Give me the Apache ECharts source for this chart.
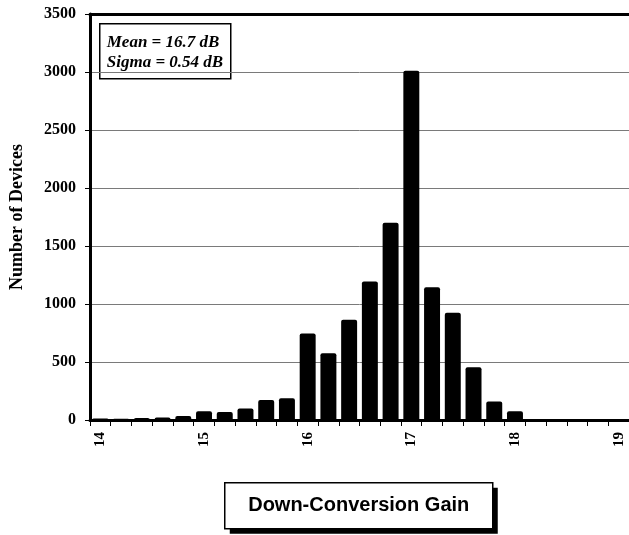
<!DOCTYPE html>
<html>
<head>
<meta charset="utf-8">
<script src="https://cdn.jsdelivr.net/npm/echarts@6/dist/echarts.min.js"></script>
<style>
html,body{margin:0;padding:0;background:#fff;}
#chart{width:629px;height:535px;}
</style>
</head>
<body>
<div id="chart"></div>
<script>
const categories = ['14','14.2','14.4','14.6','14.8','15','15.2','15.4','15.6','15.8','16','16.2','16.4','16.6','16.8','17','17.2','17.4','17.6','17.8','18','18.2','18.4','18.6','18.8','19'];
const counts = [12, 10, 17, 22, 35, 75, 70, 100, 172, 188, 745, 575, 865, 1195, 1700, 3010, 1145, 925, 455, 160, 75, 8, 2, 1, 1, 0];
const yTicks = { min: 0, max: 3500, interval: 500 };
const statsLines = ['Mean = 16.7 dB', 'Sigma = 0.54 dB'];
const xTitle = 'Down-Conversion Gain';
const yTitle = 'Number of Devices';

const serif = '"Liberation Serif", "Times New Roman", serif';
const sans = '"Liberation Sans", Arial, sans-serif';

const chart = echarts.init(document.getElementById('chart'));
chart.setOption({
  animation: false,
  backgroundColor: '#fff',
  grid: { left: 89, right: 0, top: 14, bottom: 115, containLabel: false },
  xAxis: [{
    type: 'category',
    data: categories,
    position: 'bottom',
    boundaryGap: true,
    axisLine: { show: true, lineStyle: { color: '#000', width: 3 } },
    axisTick: { show: true, interval: 0, length: 6, lineStyle: { color: '#000', width: 1 } },
    axisLabel: { interval: 4, rotate: 90, margin: 12, color: '#000', fontFamily: serif, fontWeight: 'bold', fontSize: 15 },
    splitLine: { show: false }
  }, {
    type: 'category',
    data: categories,
    position: 'top',
    axisLine: { show: true, onZero: false, lineStyle: { color: '#000', width: 3 } },
    axisTick: { show: false },
    axisLabel: { show: false },
    splitLine: { show: false }
  }],
  yAxis: [{
    type: 'value',
    min: yTicks.min, max: yTicks.max, interval: yTicks.interval,
    name: yTitle,
    nameLocation: 'middle',
    nameRotate: 90,
    nameGap: 64,
    nameTextStyle: { color: '#000', fontFamily: serif, fontWeight: 'bold', fontSize: 18 },
    axisLine: { show: true, onZero: false, lineStyle: { color: '#000', width: 3 } },
    axisTick: { show: true, length: 5, lineStyle: { color: '#000', width: 1 } },
    axisLabel: { margin: 14, color: '#000', fontFamily: serif, fontWeight: 'bold', fontSize: 16, formatter: function (v) { return String(v); } },
    splitLine: { show: true, lineStyle: { color: '#7a7a7a', width: 1 } }
  }, {
    type: 'value',
    position: 'right',
    min: yTicks.min, max: yTicks.max, interval: yTicks.interval,
    axisLine: { show: true, onZero: false, lineStyle: { color: '#aaa', width: 1 } },
    axisTick: { show: false },
    axisLabel: { show: false },
    splitLine: { show: false }
  }],
  series: [{
    type: 'bar',
    data: counts,
    xAxisIndex: 0,
    yAxisIndex: 0,
    barCategoryGap: '23%',
    itemStyle: { color: '#000', borderRadius: [2, 2, 0, 0] },
    z: 1
  }],
  graphic: [
    {
      type: 'group',
      left: 99, top: 23,
      children: [
        { type: 'rect', shape: { x: 0, y: 0, width: 131, height: 55 }, style: { fill: '#fff', stroke: '#000', lineWidth: 1.5 } },
        { type: 'text', x: 7, y: 19, style: { text: statsLines[0], fill: '#000', font: 'italic bold 17px ' + serif, textVerticalAlign: 'middle' } },
        { type: 'text', x: 7, y: 39, style: { text: statsLines[1], fill: '#000', font: 'italic bold 17px ' + serif, textVerticalAlign: 'middle' } }
      ]
    },
    {
      type: 'group',
      left: 224, top: 482,
      children: [
        { type: 'rect', shape: { x: 5, y: 5, width: 268, height: 46 }, style: { fill: '#000' } },
        { type: 'rect', shape: { x: 0, y: 0, width: 268, height: 46 }, style: { fill: '#fff', stroke: '#000', lineWidth: 1.5 } },
        { type: 'text', x: 134, y: 23, style: { text: xTitle, fill: '#000', font: 'bold 20px ' + sans, textAlign: 'center', textVerticalAlign: 'middle' } }
      ]
    }
  ]
});
</script>
</body>
</html>
